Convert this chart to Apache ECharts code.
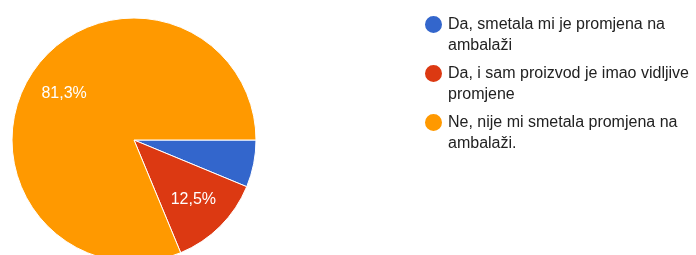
<!DOCTYPE html>
<html>
<head>
<meta charset="utf-8">
<script src="https://cdn.jsdelivr.net/npm/echarts@6/dist/echarts.min.js"></script>
<style>
html, body { margin: 0; padding: 0; background: #fff; }
#main { width: 696px; height: 255px; }
</style>
</head>
<body>
<div id="main"></div>
<script>
// odgovori (broj ispitanika)
var answers = ['Da, smetala mi je promjena na ambalaži', 'Da, i sam proizvod je imao vidljive promjene', 'Ne, nije mi smetala promjena na ambalaži.'];
var counts = [1, 2, 13];
var colors = ['#3366cc', '#dc3912', '#ff9900'];

var pieData = answers.map(function (name, i) {
    return { name: name, value: counts[i] };
});

var chart = echarts.init(document.getElementById('main'));
chart.setOption({
    animation: false,
    color: colors,
    textStyle: { fontFamily: 'Arial, "Liberation Sans", sans-serif' },
    legend: {
        orient: 'vertical',
        left: 423,
        top: -7,
        padding: 0,
        itemGap: -14,
        itemWidth: 19,
        itemHeight: 19,
        icon: 'circle',
        selectedMode: false,
        // prazan prvi red -> kružić stoji uz prvi red teksta
        formatter: function (name) {
            return '\n' + name;
        },
        textStyle: {
            color: '#222',
            fontSize: 16,
            lineHeight: 21,
            width: 252,
            overflow: 'break'
        },
        data: answers
    },
    series: [{
        type: 'pie',
        center: [134, 140],
        radius: 122,
        startAngle: 0,
        clockwise: true,
        silent: true,
        label: { show: false },
        labelLine: { show: false },
        itemStyle: { borderColor: '#fff', borderWidth: 1 },
        data: pieData
    }, {
        // samo postoci, na ~2/3 radijusa
        type: 'pie',
        center: [134, 140],
        radius: [40, 122],
        startAngle: 0,
        clockwise: true,
        silent: true,
        itemStyle: { color: 'transparent' },
        label: {
            show: true,
            position: 'inside',
            color: '#fff',
            fontSize: 16,
            formatter: function (p) {
                if (p.percent < 10) return '';
                return p.percent.toFixed(1).replace('.', ',') + '%';
            }
        },
        labelLine: { show: false },
        data: pieData
    }]
});
</script>
</body>
</html>
